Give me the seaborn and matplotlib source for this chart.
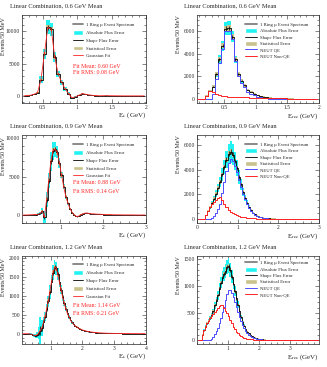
import numpy as np
import pandas as pd
import matplotlib
matplotlib.use("Agg")
import matplotlib.pyplot as plt
import seaborn as sns
from matplotlib.patches import Patch
from matplotlib.lines import Line2D
from matplotlib.ticker import MultipleLocator

# ---- data: 50 MeV bins ----
BIN = 0.05

# linear combination, 0.6 GeV mean (bins start at 0.20 GeV)
lc06_lo = 0.20
lc06_vals = [0, 50, 100, 250, 500, 2500, 6500, 10600, 10300, 6000, 3400, 2100, 1100, 350, -300, -150,
             100, 350, 250, 150, 80, 40, 20, 30, 40, 30, 20, 10, 10, 0, 0, 0, 0, 0, 0, 0]
lc06_abs = [0, 20, 30, 60, 120, 500, 800, 1100, 1000, 800, 500, 400, 300, 200, 150, 100,
            100, 100, 80, 60, 40, 30, 20, 20, 20, 20, 15, 10, 10, 0, 0, 0, 0, 0, 0, 0]
lc06_shape = [0, 10, 10, 20, 40, 150, 250, 350, 300, 250, 150, 120, 100, 60, 50, 40,
              40, 40, 30, 20, 15, 10, 10, 10, 10, 10, 5, 5, 5, 0, 0, 0, 0, 0, 0, 0]
lc06_stat = [0, 20, 30, 50, 70, 150, 250, 300, 300, 250, 180, 140, 100, 80, 60, 50,
             50, 50, 40, 30, 20, 20, 15, 15, 15, 15, 10, 10, 10, 0, 0, 0, 0, 0, 0, 0]

# linear combination, 0.9 GeV mean (bins start at 0.10 GeV)
lc09_lo = 0.10
lc09_vals = [0, 0, 0, 20, 30, 40, 60, 100, 200, 500, -300, 2000, 4500, 7000, 8400, 8600, 8200, 6800,
             5200, 3700, 2400, 1500, 800, 300, 0, -200, -150, 50, 150, 250, 250, 200, 150, 150, 120,
             100, 100, 80, 60, 50, 40, 40, 30, 30, 20, 20, 20, 10, 10, 10, 10, 10, 0, 0, 0, 0, 0, 0]
lc09_abs = [0, 0, 10, 20, 30, 40, 60, 100, 200, 400, 800, 1000, 1000, 1200, 1200, 1000, 800, 600,
            400, 300, 250, 200, 150, 120, 100, 100, 80, 60, 50, 40, 40, 30, 30, 30, 25,
            20, 20, 20, 15, 15, 10, 10, 10, 10, 10, 5, 5, 5, 5, 5, 5, 0, 0, 0, 0, 0, 0, 0]
lc09_shape = [0, 0, 5, 5, 10, 15, 20, 30, 60, 130, 250, 300, 300, 350, 350, 300, 250, 200,
              130, 100, 80, 60, 50, 40, 30, 30, 25, 20, 15, 15, 15, 10, 10, 10, 8,
              7, 7, 7, 5, 5, 3, 3, 3, 3, 3, 2, 2, 2, 2, 2, 2, 0, 0, 0, 0, 0, 0, 0]
lc09_stat = [0, 0, 10, 20, 20, 30, 40, 50, 80, 120, 150, 200, 250, 300, 300, 300, 300, 250,
             220, 200, 160, 130, 110, 90, 80, 80, 70, 60, 60, 50, 50, 45, 40, 40, 35,
             35, 30, 30, 30, 25, 25, 25, 20, 20, 20, 20, 15, 15, 15, 15, 15, 0, 0, 0, 0, 0, 0, 0]

# linear combination, 1.2 GeV mean (bins start at 0.10 GeV)
lc12_lo = 0.10
lc12_vals = [0, 0, 0, 0, 0, -10, -30, -40, -50, -30, 20, 80, 150, 300, 450, 650, 850, 1100, 1350, 1600,
             1750, 1720, 1560, 1360, 1160, 970, 810, 660, 540, 440, 360, 295, 245, 205, 172, 146, 125,
             107, 92, 80, 69, 60, 52, 46, 40, 35, 31, 27, 24, 21, 19, 17, 15, 13, 12, 11, 10, 9, 8,
             7, 7, 6, 6, 5, 5, 4, 4, 4, 3, 3, 3, 3, 2, 2, 2, 2, 2, 2]
lc12_abs = [0, 0, 0, 0, 10, 20, 30, 40, 50, 80, 150, 350, 200, 150, 120, 130, 150, 180, 200, 200,
            180, 170, 160, 140, 120, 100, 80, 70, 55, 45, 35, 30, 25, 20, 17, 15, 12, 10, 9, 8, 7, 6,
            5, 5, 4, 4, 3, 3, 3, 2, 2, 2, 2, 1, 1, 1, 1, 1, 1, 1, 1, 1, 1, 1,
            0, 0, 0, 0, 0, 0, 0, 0, 0, 0, 0, 0, 0, 0]
lc12_shape = [0, 0, 0, 0, 3, 7, 10, 13, 17, 27, 50, 120, 70, 50, 40, 45, 50, 60, 65, 65, 60, 55, 50,
              45, 40, 35, 27, 23, 18, 15, 12, 10, 8, 7, 6, 5, 4, 3, 3, 3, 2, 2, 2, 2, 1, 1, 1, 1, 1,
              1, 1, 1, 1, 1, 1] + [0] * 23
lc12_stat = [0, 0, 0, 0, 5, 10, 15, 15, 20, 20, 25, 30, 35, 40, 45, 50, 55, 60, 65, 70, 70, 70, 65,
             60, 55, 50, 45, 40, 35, 30, 27, 25, 22, 20, 18, 16, 15, 14, 13, 12, 11, 10, 9, 9, 8, 8,
             7, 7, 6, 6, 6, 5, 5, 5, 5, 4, 4, 4, 4, 4, 3, 3, 3, 3, 3, 3, 3, 2, 2, 2, 2, 2, 2, 2, 2,
             2, 2, 2]

# E_rec spectra, 0.6 GeV mean (bins start at 0.05 GeV)
rec06_lo = 0.05
rec06_vals = [0, 0, 0, 300, 700, 1100, 2200, 3500, 4700, 6200, 6250, 5500, 3500, 2200, 1600, 1200, 800,
              600, 450, 330, 250, 200, 150, 120, 100, 80, 70, 60, 50, 40, 35, 30, 25, 20, 18, 15, 12, 10, 8]
rec06_qe = [0, 0, 0, 0, 0, 450, 1750, 3150, 4420, 5950, 6030, 5300, 3320, 2030, 1440, 1050, 660,
            470, 330, 220, 150, 105, 60, 35, 20, 10, 5, 0, 0, 0, 0, 0, 0, 0, 0, 0, 0, 0, 0]
rec06_nonqe = [0, 0, 0, 300, 700, 650, 450, 350, 280, 250, 220, 200, 180, 170, 160, 150, 140,
               130, 120, 110, 100, 95, 90, 85, 80, 70, 65, 60, 50, 40, 35, 30, 25, 20, 18, 15, 12, 10, 8]
rec06_abs = [0, 0, 0, 40, 80, 120, 220, 350, 450, 600, 600, 500, 330, 200, 150, 110, 80,
             60, 45, 35, 25, 20, 15, 12, 10, 8, 7, 6, 5, 4, 4, 3, 3, 2, 2, 2, 1, 1, 1]
rec06_shape = [0, 0, 0, 10, 25, 35, 70, 110, 150, 200, 200, 170, 110, 70, 50, 40, 25,
               20, 15, 10, 8, 6, 5, 4, 3, 3, 2, 2, 2, 1, 1, 1, 1, 1, 1, 0, 0, 0, 0]
rec06_stat = [0, 0, 0, 60, 90, 110, 150, 180, 200, 230, 230, 220, 180, 150, 120, 110, 90,
              80, 70, 60, 50, 45, 40, 35, 30, 30, 25, 25, 20, 20, 15, 15, 15, 10, 10, 10, 10, 10, 10]

# E_rec spectra, 0.9 GeV mean (bins start at 0.0 GeV)
rec09_lo = 0.0
rec09_vals = [0, 0, 0, 0, 300, 650, 950, 1300, 1650, 2050, 2500, 3000, 3600, 4200, 4800, 5300, 5450,
              5200, 4700, 4100, 3400, 2800, 2200, 1700, 1300, 950, 700, 500, 360, 260, 190, 140, 100,
              75, 55, 40, 30, 25, 20, 15,
              12, 10, 9, 8, 7, 6, 5, 5, 4, 4, 3, 3, 3, 2, 2, 2, 2, 1, 1, 1]
rec09_qe = [0, 0, 0, 0, 0, 0, 0, 100, 250, 500, 800, 1220, 2100, 3000, 3850, 4550, 4850, 4720, 4320,
            3800, 3160, 2610, 2050, 1580, 1205, 875, 640, 455, 325, 232, 168, 122, 85, 63, 45, 32,
            23, 19, 15, 10,
            8, 6, 6, 5, 4, 4, 3, 3, 2, 3, 2, 2, 2, 1, 1, 1, 1, 0, 0, 0]
rec09_nonqe = [0, 0, 0, 0, 300, 650, 950, 1200, 1400, 1550, 1700, 1780, 1500, 1200, 950, 750, 600, 480,
               380, 300, 240, 190, 150, 120, 95, 75, 60, 45, 35, 28, 22, 18, 15, 12, 10, 8, 7, 6, 5, 5,
               4, 4, 3, 3, 3, 2, 2, 2, 2, 1, 1, 1, 1, 1, 1, 1, 1, 1, 1, 1]
rec09_abs = [0, 0, 0, 0, 40, 90, 130, 180, 230, 290, 350, 420, 500, 600, 700, 800, 880, 850, 760, 650,
             540, 440, 340, 260, 200, 140, 100, 75, 55, 40, 28, 20, 15, 11, 8, 6, 5, 4, 3, 2,
             2, 2, 1, 1, 1, 1, 1, 1, 1, 1, 0, 0, 0, 0, 0, 0, 0, 0, 0, 0]
rec09_shape = [0, 0, 0, 0, 12, 25, 35, 50, 65, 80, 100, 120, 140, 170, 190, 210, 220, 210, 190, 165,
               135, 110, 90, 70, 50, 38, 28, 20, 15, 10, 8, 6, 4, 3, 2, 2, 1, 1, 1, 1] + [0] * 20
rec09_stat = [0, 0, 0, 0, 50, 70, 90, 100, 110, 120, 130, 140, 150, 160, 170, 180, 180, 180, 170, 160,
              150, 140, 130, 110, 100, 90, 80, 70, 60, 50, 45, 40, 35, 30, 25, 22, 20, 18, 15, 14,
              12, 11, 10, 10, 9, 9, 8, 8, 7, 7, 6, 6, 6, 5, 5, 5, 5, 4, 4, 4]

# E_rec spectra, 1.2 GeV mean (bins start at 0.0 GeV)
rec12_lo = 0.0
rec12_vals = [0, 0, 0, 100, 180, 250, 310, 360, 410, 460, 530, 640, 730, 830, 950, 1060, 1150, 1220,
              1280, 1350, 1370, 1300, 1170, 1040, 900, 770, 650, 530, 430, 342, 268, 208, 160, 124, 94,
              73, 56, 44, 34, 27,
              22, 18, 15, 12, 10, 8, 7, 6, 5, 4, 4, 3, 3, 3, 2, 2, 2, 2, 2, 1,
              1, 1, 1, 1, 1, 1, 1, 1, 1, 1, 1, 1, 1, 1, 1, 1, 0, 0, 0, 0]
rec12_qe = [0, 0, 0, 0, 0, 0, 0, 0, 10, 20, 50, 120, 170, 230, 320, 410, 510, 620, 740, 850, 930, 920,
            860, 790, 700, 610, 520, 430, 350, 280, 220, 170, 130, 100, 75, 58, 44, 34, 26, 20,
            16, 13, 10, 8, 6, 5, 4, 3, 3, 2, 2, 1, 1, 2, 1, 1, 1, 1, 1] + [0] * 21
rec12_nonqe = [0, 0, 0, 100, 180, 250, 310, 360, 400, 440, 480, 520, 560, 600, 630, 650, 640, 600,
               540, 500, 440, 380, 310, 250, 200, 160, 130, 100, 80, 62, 48, 38, 30, 24, 19, 15, 12,
               10, 8, 7,
               6, 5, 5, 4, 4, 3, 3, 3, 2, 2, 2, 2, 2, 1, 1, 1, 1, 1, 1, 1, 1, 1, 1, 1, 1] + [0] * 15
rec12_abs = [0, 0, 0, 10, 18, 25, 31, 36, 41, 46, 53, 64, 73, 83, 95, 106, 115, 122, 128, 135, 137,
             130, 117, 104, 90, 77, 65, 53, 43, 34, 27, 21, 16, 12, 9, 7, 6, 4, 3, 3,
             2, 2, 2, 1, 1, 1, 1, 1, 1, 1] + [0] * 30
rec12_shape = [0, 0, 0, 3, 5, 8, 9, 11, 12, 14, 16, 19, 22, 25, 28, 32, 35, 37, 38, 40, 41, 39, 35,
               31, 27, 23, 20, 16, 13, 10, 8, 6, 5, 4, 3, 2, 2, 1, 1, 1] + [0] * 40
rec12_stat = [0, 0, 0, 10, 13, 16, 18, 19, 20, 21, 23, 25, 27, 29, 31, 33, 34, 35, 36, 37, 37, 36, 34,
              32, 30, 28, 25, 23, 21, 18, 16, 14, 13, 11, 10, 9, 8, 7, 6, 5,
              5, 4, 4, 3, 3, 3, 3, 2, 2, 2, 2, 2, 2, 1, 1, 1, 1, 1, 1, 1, 1, 1, 1, 1, 1, 1, 1, 1,
              1, 1, 1, 1, 1, 1, 1, 1, 0, 0, 0, 0]

titles = ["Linear Combination, 0.6 GeV Mean", "Linear Combination, 0.9 GeV Mean",
          "Linear Combination, 1.2 GeV Mean"]
fit_means = ["Fit Mean: 0.60 GeV", "Fit Mean: 0.88 GeV", "Fit Mean: 1.14 GeV"]
fit_rms = ["Fit RMS: 0.08 GeV", "Fit RMS: 0.14 GeV", "Fit RMS: 0.21 GeV"]

# ---- styling ----
CYAN = "#22f2f2"
OLIVE = "#c9c28c"
BLUE = "#4d4dff"
RED = "#ff2424"

sns.set_style("ticks")
plt.rcParams["font.family"] = ["Liberation Serif", "DejaVu Serif"]
plt.rcParams["mathtext.fontset"] = "stix"


def binned(lo, vals):
    vals = np.asarray(vals, float)
    centers = lo + BIN * np.arange(len(vals)) + BIN / 2
    return pd.DataFrame({"E": centers, "n": vals})


def step(ax, df, color, lw, z):
    # histogram outline: horizontal at each bin value, vertical at bin edges
    sns.lineplot(data=df, x="E", y="n", drawstyle="steps-mid", color=color, lw=lw, ax=ax, zorder=z)


def draw_spectrum(ax, lo, vals, abs_err, shape_err, stat_err):
    df = binned(lo, vals)
    abs_err = np.asarray(abs_err, float)
    stat_err = np.asarray(stat_err, float)
    ax.bar(df.E, 2 * abs_err, bottom=df.n - abs_err, width=BIN, color=CYAN, lw=0, zorder=1)
    ax.bar(df.E, 2 * stat_err, bottom=df.n - stat_err, width=BIN, color=OLIVE, lw=0, zorder=2)
    step(ax, df, "black", 0.6, 3)
    ax.errorbar(df.E, df.n, yerr=shape_err, fmt="none", ecolor="black", elinewidth=0.5, zorder=3)
    return df


def style(ax, xlim, ylim, xticks, xlabels, yticks, xminor, yminor):
    ax.set_xlim(xlim)
    ax.set_ylim(ylim)
    ax.set_xticks(xticks)
    ax.set_xticklabels(xlabels)
    ax.set_yticks(yticks)
    ax.set_yticklabels([str(t) for t in yticks])
    ax.xaxis.set_minor_locator(MultipleLocator(xminor))
    ax.yaxis.set_minor_locator(MultipleLocator(yminor))
    ax.tick_params(which="both", direction="in", top=True, right=True, labelsize=4.0,
                   pad=1.5, width=0.4)
    ax.tick_params(which="major", length=3)
    ax.tick_params(which="minor", length=1.5)
    ax.set_xlabel("")
    ax.set_ylabel("")
    for s in ax.spines.values():
        s.set_linewidth(0.5)


W, H = 327, 367
fig = plt.figure(figsize=(W / 100, H / 100), dpi=100)
row_tops = [15, 135, 256]
left_x, right_x = 22, 197


def make_ax(x, w, top):
    return fig.add_axes([x / W, 1 - (top + 88) / H, w / W, 88 / H])


common = [Line2D([], [], color="#808080", lw=1.3), Patch(facecolor=CYAN),
          Line2D([], [], color="black", lw=0.6), Patch(facecolor=OLIVE)]
common_lbl = ["1 Ring \u03bc Event Spectrum", "Absolute Flux Error", "Shape Flux Error",
              "Statistical Error"]

# left column
left_sets = [
    (lc06_lo, lc06_vals, lc06_abs, lc06_shape, lc06_stat, (0.2, 2.0), (-1100, 12500),
     [0.5, 1, 1.5, 2], ["0.5", "1", "1.5", "2"], [0, 5000, 10000], 0.1, 1000, 0.92, (0.42, 0.35)),
    (lc09_lo, lc09_vals, lc09_abs, lc09_shape, lc09_stat, (0.1, 3.0), (-1050, 10450),
     [1, 2, 3], ["1", "2", "3"], [0, 5000, 10000], 0.2, 1000, 0.92, (0.46, 0.36)),
    (lc12_lo, lc12_vals, lc12_abs, lc12_shape, lc12_stat, (0.1, 4.0), (-270, 2040),
     [1, 2, 3, 4], ["1", "2", "3", "4"], [0, 500, 1000, 1500, 2000], 0.2, 100, 0.93, (0.44, 0.35)),
]
for i, (lo, v, a, sh, st, xl, yl, xt, xtl, yt, xm, ym, legtop, fity) in enumerate(left_sets):
    ax = make_ax(left_x, 124, row_tops[i])
    df = draw_spectrum(ax, lo, v, a, sh, st)
    sns.lineplot(data=df, x="E", y="n", color=RED, lw=0.6, ax=ax, zorder=5)
    style(ax, xl, yl, xt, xtl, yt, xm, ym)
    ax.legend(common + [Line2D([], [], color=RED, lw=0.6)], common_lbl + ["Gaussian Fit"],
              loc="upper left", bbox_to_anchor=(0.41, legtop), frameon=False, fontsize=3.4,
              handlelength=2.1, handleheight=1.2, labelspacing=0.6, handletextpad=0.64,
              borderpad=0, borderaxespad=0)
    ax.text(0.41, fity[0], fit_means[i], transform=ax.transAxes, color=RED, fontsize=4.2, va="center")
    ax.text(0.41, fity[1], fit_rms[i], transform=ax.transAxes, color=RED, fontsize=4.2, va="center")
    ax.text(1.0, -0.14, "E$_{\\nu}$ (GeV)", transform=ax.transAxes, ha="right", va="center", fontsize=5)
    fig.text(10 / W, 1 - (row_tops[i] - 9) / H, titles[i], fontsize=4.6, va="center", ha="left")
    fig.text(4 / W, 1 - (row_tops[i] + 2) / H, "Events/50 MeV", rotation=90, fontsize=4.3,
             ha="center", va="top")

# right column
right_sets = [
    (rec06_lo, rec06_vals, rec06_abs, rec06_shape, rec06_stat, rec06_qe, rec06_nonqe, (0.07, 2.0),
     (-350, 7400), [0.5, 1, 1.5, 2], ["0.5", "1", "1.5", "2"], [0, 2000, 4000, 6000], 0.1, 500, 0.92),
    (rec09_lo, rec09_vals, rec09_abs, rec09_shape, rec09_stat, rec09_qe, rec09_nonqe, (0.0, 3.0),
     (-330, 6800), [0, 1, 2, 3], ["0", "1", "2", "3"], [0, 2000, 4000, 6000], 0.2, 500, 0.92),
    (rec12_lo, rec12_vals, rec12_abs, rec12_shape, rec12_stat, rec12_qe, rec12_nonqe, (0.0, 3.95),
     (-70, 1550), [1, 2, 3], ["1", "2", "3"], [0, 500, 1000, 1500], 0.2, 100, 0.95),
]
for i, (lo, v, a, sh, st, qe, nqe, xl, yl, xt, xtl, yt, xm, ym, legtop) in enumerate(right_sets):
    ax = make_ax(right_x, 122, row_tops[i])
    draw_spectrum(ax, lo, v, a, sh, st)
    step(ax, binned(lo, qe), BLUE, 0.7, 4)
    step(ax, binned(lo, nqe), RED, 0.7, 4)
    style(ax, xl, yl, xt, xtl, yt, xm, ym)
    ax.legend(common + [Line2D([], [], color=BLUE, lw=0.7), Line2D([], [], color=RED, lw=0.7)],
              common_lbl + ["NEUT QE", "NEUT Non-QE"],
              loc="upper left", bbox_to_anchor=(0.393, legtop), frameon=False, fontsize=3.4,
              handlelength=2.5, handleheight=1.2, labelspacing=0.28, handletextpad=0.64,
              borderpad=0, borderaxespad=0)
    ax.text(1.0, -0.15, "E$_{\\rm rec}$ (GeV)", transform=ax.transAxes, ha="right", va="center",
            fontsize=5)
    fig.text(184 / W, 1 - (row_tops[i] - 9) / H, titles[i], fontsize=4.6, va="center", ha="left")
    fig.text(178 / W, 1 - row_tops[i] / H, "Events/50 MeV", rotation=90, fontsize=4.3,
             ha="center", va="top")

fig.savefig("out.png", dpi=100)
